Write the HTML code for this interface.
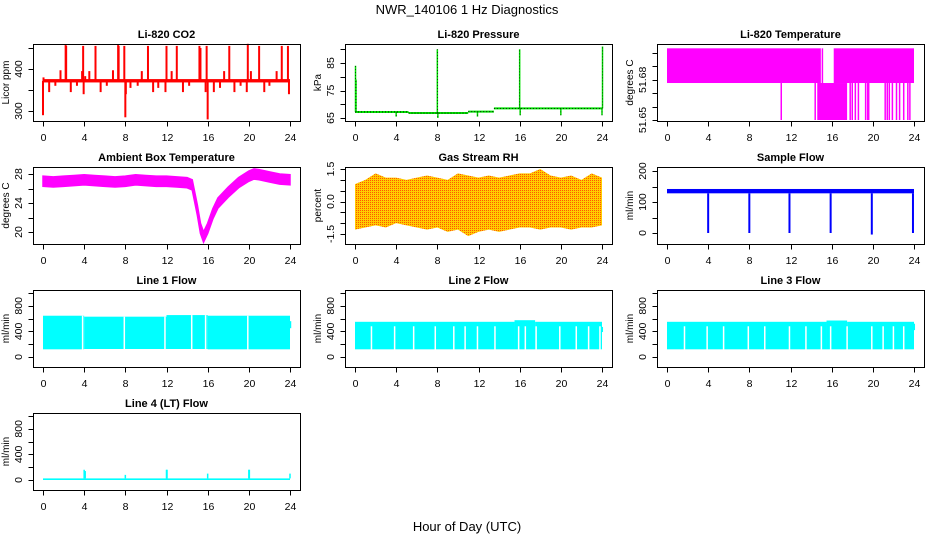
<!DOCTYPE html>
<html><head><meta charset="utf-8"><style>
html,body{margin:0;padding:0;background:#fff;}
svg{display:block;font-family:"Liberation Sans",sans-serif;}
</style></head><body>
<svg id="chart" width="936" height="540" viewBox="0 0 936 540" xmlns="http://www.w3.org/2000/svg">
<defs>
<pattern id="rhpat" width="2" height="2" patternUnits="userSpaceOnUse">
<rect width="2" height="2" fill="#ffcc00"/><rect width="1" height="1" fill="#ff5500"/>
</pattern>
</defs>
<text x="467" y="14" text-anchor="middle" font-size="13">NWR_140106  1 Hz Diagnostics</text>
<text x="467" y="531" text-anchor="middle" font-size="13">Hour of Day (UTC)</text>
</svg>
<script>
// ---- data ----
const xTicks=[0,4,8,12,16,20,24];
const co2Base=372;
const co2SpikeT=[0.0,0.05,0.6,1.2,1.7,2.2,2.25,2.7,3.3,3.8,3.9,3.95,4.1,4.5,5.1,5.6,6.2,6.8,7.3,7.35,7.9,8.0,8.05,8.5,9.2,9.6,10.2,10.7,11.2,11.9,12.0,12.5,13.0,13.6,14.2,14.7,15.2,15.3,15.8,15.9,16.0,16.6,17.2,17.6,18.1,18.6,19.2,19.8,19.9,20.2,20.6,21.0,21.5,22.0,22.7,23.2,23.8,23.9];
const co2SpikeV=[290,380,345,360,397,457,455,345,360,395,455,340,383,395,455,345,360,397,457,455,455,285,340,355,360,395,455,345,355,345,455,395,455,345,360,375,455,450,345,455,280,345,355,395,455,345,360,345,460,395,375,455,345,360,395,455,455,340];
const presBreaks=[0,5.2,11,13.5,24];
const presLevels=[67.2,66.8,67.3,68.5];
const presSpikeT=[0.05,0.1,4,8,8.05,11.9,16,16.05,20,24,24.05];
const presSpikeV=[84,79,65.5,90,65,65.5,90,66,66,66,91];
const tempBandStart=[0,16.2,14.6];
const tempBandEnd=[14.95,24,17.5];
const tempBandLo=[51.6776,51.6776,51.65];
const tempBandHi=[51.7035,51.7035,51.6776];
const tempDropT=[11.1,14.4,15.1,17.8,18.0,18.3,18.6,19.3,19.5,19.6,21.2,21.4,21.6,21.9,22.3,22.6,23.0,23.4,23.6];
const tempDropTop=[51.6776,51.6776,51.7035,51.6776,51.6776,51.6776,51.6776,51.6776,51.6776,51.6776,51.6776,51.6776,51.6776,51.6776,51.6776,51.6776,51.6776,51.6776,51.6776];
const tempDropV=[51.65,51.65,51.65,51.65,51.65,51.65,51.65,51.65,51.65,51.65,51.65,51.65,51.65,51.65,51.65,51.65,51.65,51.65,51.65];
const ambT=[0,1,2,3,4,5,6,7,8,9,10,11,12,13,14,14.5,15,15.3,15.6,16,16.5,17,18,19,20,20.5,21,22,23,24];
const ambV=[27.0,26.9,27.0,27.1,27.2,27.1,27.0,26.9,27.0,27.2,27.1,27.0,27.0,26.9,26.8,26.5,23.0,20.5,19.3,20.5,22.5,24.0,25.5,26.8,27.7,28.0,27.9,27.6,27.3,27.2];
const rhT=[0,1,2,3,4,5,6,7,8,9,10,11,12,13,14,15,16,17,18,19,20,21,22,23,24];
const rhHi=[0.8,1.0,1.3,1.1,1.1,1.0,1.1,1.2,1.1,1.0,1.3,1.2,1.1,1.2,1.1,1.2,1.3,1.3,1.5,1.2,1.1,1.2,1.0,1.3,1.1];
const rhLo=[-1.3,-1.2,-1.1,-1.2,-1.0,-1.1,-1.2,-1.3,-1.2,-1.4,-1.3,-1.6,-1.4,-1.3,-1.4,-1.3,-1.2,-1.2,-1.3,-1.2,-1.2,-1.3,-1.2,-1.2,-1.1];
const sfBaseLo=128, sfBaseHi=142;
const sfDropT=[4,8,11.9,15.9,19.9,23.9];
const sfDropV=[0,0,0,0,-5,0];
const l1SegStart=[0,4,12,16,24];
const l1SegEnd=[4,12,16,24,24.12];
const l1SegHi=[645,630,655,645,560];
const l1SegLo=[120,125,125,120,450];
const l1GapT=[3.85,7.9,11.85,14.45,15.8,19.9];
const l1GapTop=[645,630,630,655,655,645];
const l2SegStart=[0,15.5,17.5,24];
const l2SegEnd=[15.5,17.5,24,24.1];
const l2SegHi=[550,575,550,470];
const l2SegLo=[120,120,120,390];
const l2GapT=[1.6,3.85,5.7,7.8,9.6,10.7,11.9,13.6,15.9,16.55,17.6,19.9,21.5,22.7,23.8];
const l2GapTop=[480,480,480,480,480,480,480,480,480,480,480,480,480,480,480];
const l3SegStart=[0,15.5,17.5,24];
const l3SegEnd=[15.5,17.5,24,24.1];
const l3SegHi=[550,570,550,520];
const l3SegLo=[120,120,120,420];
const l3GapT=[1.7,3.9,5.5,7.9,9.5,11.9,13.5,15.0,15.9,17.5,19.9,21.0,22.0,23.0];
const l3GapTop=[480,480,480,480,480,480,480,480,480,480,480,480,480,480];
const l4BaseLo=0, l4BaseHi=25;
const l4SpikeT=[4,4.1,8,12,12.05,16,20,20.05,24];
const l4SpikeV=[160,140,80,160,160,100,160,160,100];

// ---- layout ----
const svg=document.getElementById('chart');
const NS='http://www.w3.org/2000/svg';
const cols=[33,345,657], rows=[44,167,290,413], BW=267, BH=77;
function el(tag,attrs,parent){const e=document.createElementNS(NS,tag);for(const k in attrs)e.setAttribute(k,attrs[k]);(parent||svg).appendChild(e);return e;}
function makePanel(c,r,title,ylab,va,oa,vb,ob,yticks,ylabels){
  const x0=cols[c], y0=rows[r];
  const g=el('g',{});
  
  
  const P={x0,y0,g,xs:t=>x0+10+t*247/24,ys:v=>y0+oa+(v-va)*(ob-oa)/(vb-va)};
  const plot=el('g',{},g);
  
  
  P.plot=plot;
  const box=el('rect',{x:x0+0.5,y:y0+0.5,width:BW,height:BH,fill:'none',stroke:'#000','stroke-width':1},g);
  
  
  const t=el('text',{x:x0+BW/2,y:y0-6,'text-anchor':'middle','font-size':11,'font-weight':'bold'},g);
  t.textContent=title;
  
  
  const xa=el('g',{stroke:'#000','stroke-width':1},g);
  
  
  const yb=y0+BH+0.5;
  el('line',{x1:P.xs(0),x2:P.xs(24),y1:yb,y2:yb},xa);
  xTicks.forEach(v=>{
    const x=Math.round(P.xs(v))+0.5;
    el('line',{x1:x,x2:x,y1:yb,y2:yb+5},xa);
    const lt=el('text',{x:x,y:y0+BH+20,'text-anchor':'middle','font-size':10.5,stroke:'none'},g);
    lt.textContent=v;
    
    
  });
  const ya=el('g',{stroke:'#000','stroke-width':1},g);
  
  
  const xl=x0+0.5;
  el('line',{x1:xl,x2:xl,y1:P.ys(yticks[0]),y2:P.ys(yticks[yticks.length-1])},ya);
  yticks.forEach(v=>{const y=Math.round(P.ys(v))+0.5;el('line',{x1:xl-5,x2:xl,y1:y,y2:y},ya);});
  ylabels.forEach(s=>{
    const y=P.ys(parseFloat(s)), x=x0-11;
    const lt=el('text',{x:x,y:y,'text-anchor':'middle','font-size':10.5,transform:`rotate(-90 ${x} ${y})`},g);
    lt.textContent=s;
    
    
  });
  const yx=x0-24, yy=y0+BH/2;
  const yt=el('text',{x:yx,y:yy,'text-anchor':'middle','font-size':10,transform:`rotate(-90 ${yx} ${yy})`},g);
  yt.textContent=ylab;
  
  
  return P;
}
function vline(P,t,v1,v2,color,w,name){
  const x=P.xs(t);
  const l=el('line',{x1:x,x2:x,y1:P.ys(v1),y2:P.ys(v2),stroke:color,'stroke-width':w||1.5},P.plot);
  
  
  return l;
}
function band(P,t1,t2,lo,hi,color,name){
  const r=el('rect',{x:P.xs(t1),y:P.ys(hi),width:Math.max(1,P.xs(t2)-P.xs(t1)),height:P.ys(lo)-P.ys(hi),fill:color},P.plot);
  
  
  return r;
}

// CO2
let P=makePanel(0,0,'Li-820 CO2','Licor ppm',400,25,300,67,[300,350,400,450],['300','400']);
band(P,0,24,co2Base-4,co2Base+4,'#ff0000','co2-baseline');
co2SpikeT.forEach((t,i)=>vline(P,t,co2Base,co2SpikeV[i],'#ff0000',2,'co2-spike'));

// Pressure
P=makePanel(1,0,'Li-820 Pressure','kPa',65,74,85,19,[65,70,75,80,85,90],['65','75','85']);
presLevels.forEach((v,i)=>{
  const y=P.ys(v);
  const l=el('line',{x1:P.xs(presBreaks[i]),x2:P.xs(presBreaks[i+1]),y1:y,y2:y,stroke:'#00e000','stroke-width':2},P.plot);
  
  
  const d=el('line',{x1:P.xs(presBreaks[i]),x2:P.xs(presBreaks[i+1]),y1:y,y2:y,stroke:'#000','stroke-width':0.8,'stroke-dasharray':'1 2'},P.plot);
  
  
});
presSpikeT.forEach((t,i)=>{
  const base=presLevels[presBreaks.findIndex((b,j)=>t>=b&&t<=presBreaks[j+1])]||presLevels[presLevels.length-1];
  vline(P,t,base,presSpikeV[i],'#00e000',1.5,'pressure-spike');
  const d=vline(P,t,base,presSpikeV[i],'#000',0.6,'pressure-spike-points');
  d.setAttribute('stroke-dasharray','1 2');
});

// Temperature
P=makePanel(2,0,'Li-820 Temperature','degrees C',51.65,76,51.70,9,[51.65,51.66,51.67,51.68,51.69,51.70],['51.65','51.68']);
tempBandStart.forEach((s,i)=>band(P,s,tempBandEnd[i],tempBandLo[i],tempBandHi[i],'#ff00ff','temperature-band'));
tempDropT.forEach((t,i)=>vline(P,t,tempDropTop[i],tempDropV[i],'#ff00ff',1.5,'temperature-drop'));

// Ambient
P=makePanel(0,1,'Ambient Box Temperature','degrees C',20,65,28,7,[20,22,24,26,28],['20','24','28']);
{
  let d='M'+ambT.map((t,i)=>P.xs(t)+','+P.ys(ambV[i]+0.7)).join(' L');
  d+=' L'+ambT.slice().reverse().map((t,i)=>P.xs(t)+','+P.ys(ambV[ambV.length-1-i]-0.7)).join(' L')+' Z';
  const p=el('path',{d:d,fill:'#ff00ff',stroke:'#ff00ff','stroke-width':1.5},P.plot);
  
  
}

// RH
P=makePanel(1,1,'Gas Stream RH','percent',1.5,2,-1.5,67,[-1.5,-1,-0.5,0,0.5,1,1.5],['-1.5','0.0','1.5']);
{
  let d='M'+rhT.map((t,i)=>P.xs(t)+','+P.ys(rhHi[i])).join(' L');
  d+=' L'+rhT.slice().reverse().map((t,i)=>P.xs(t)+','+P.ys(rhLo[rhLo.length-1-i])).join(' L')+' Z';
  const p=el('path',{d:d,fill:'url(#rhpat)'},P.plot);
  
  
}

// Sample flow
P=makePanel(2,1,'Sample Flow','ml/min',0,66,200,4,[0,50,100,150,200],['0','100','200']);
band(P,0,24,sfBaseLo,sfBaseHi,'#0000ff','sample-flow-band');
sfDropT.forEach((t,i)=>vline(P,t,sfBaseLo,sfDropV[i],'#0000ff',2,'sample-flow-drop'));

// Line flows
const lineTicks=[0,200,400,600,800,1000], lineLabels=['0','400','800'];
function linePanel(c,r,title,ss,se,hi,lo,gt,gtop,nm){
  const P=makePanel(c,r,title,'ml/min',0,67,1000,3,lineTicks,lineLabels);
  ss.forEach((s,i)=>band(P,s,se[i],lo[i],hi[i],'#00ffff',nm+'-band'));
  gt.forEach((t,i)=>vline(P,t,110,gtop[i],'#ffffff',1.5,nm+'-gap'));
  return P;
}
linePanel(0,2,'Line 1 Flow',l1SegStart,l1SegEnd,l1SegHi,l1SegLo,l1GapT,l1GapTop,'line1-flow');
linePanel(1,2,'Line 2 Flow',l2SegStart,l2SegEnd,l2SegHi,l2SegLo,l2GapT,l2GapTop,'line2-flow');
linePanel(2,2,'Line 3 Flow',l3SegStart,l3SegEnd,l3SegHi,l3SegLo,l3GapT,l3GapTop,'line3-flow');
P=makePanel(0,3,'Line 4 (LT) Flow','ml/min',0,67,1000,3,lineTicks,lineLabels);
band(P,0,24,l4BaseLo,l4BaseHi,'#00ffff','line4-flow-band');
l4SpikeT.forEach((t,i)=>vline(P,t,l4BaseHi,l4SpikeV[i],'#00ffff',1.5,'line4-flow-spike'));
</script>
</body></html>
